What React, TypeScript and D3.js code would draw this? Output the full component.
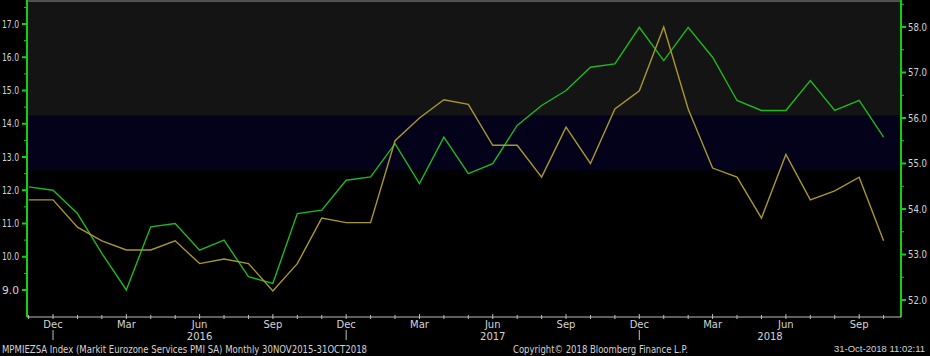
import React from "react";
import * as d3 from "d3";

// Eurozone Services PMI (right axis), Nov 2015 – Oct 2018
const pmiValues = [
  54.2, 54.2, 53.6, 53.3, 53.1, 53.1, 53.3, 52.8, 52.9, 52.8, 52.2, 52.8,
  53.8, 53.7, 53.7, 55.5, 56.0, 56.4, 56.3, 55.4, 55.4, 54.7, 55.8, 55.0,
  56.2, 56.6, 58.0, 56.2, 54.9, 54.7, 53.8, 55.2, 54.2, 54.4, 54.7, 53.3,
];
// Comparison series (left axis)
const leftValues = [
  12.1, 12.0, 11.3, 10.1, 9.0, 10.9, 11.0, 10.2, 10.5, 9.4, 9.2, 11.3,
  11.4, 12.3, 12.4, 13.4, 12.2, 13.6, 12.5, 12.8, 13.95, 14.55, 15.0, 15.7,
  15.8, 16.9, 15.9, 16.9, 16.0, 14.7, 14.4, 14.4, 15.3, 14.4, 14.7, 13.6,
];
const leftTicks = [9, 10, 11, 12, 13, 14, 15, 16, 17];
const rightTicks = [52, 53, 54, 55, 56, 57, 58];
const tickMonths = ["Dec", "Mar", "Jun", "Sep"];
const yearLabels = [
  { label: "2016", pos: 7 },
  { label: "2017", pos: 19 },
  { label: "2018", pos: 30.35 },
];
// background bands in right-axis units
const bandEdges = [56.05, 54.85];

const W = 930;
const H = 356;
const plotL = 27;
const plotR = 901;
const plotT = 1;
const plotB = 317;

const months = d3.timeMonth.range(new Date(2015, 10, 1), new Date(2018, 10, 1));
const fmtMonth = d3.timeFormat("%b");

export default function App() {
  const x = d3.scaleLinear().domain([0, 35]).range([28.6, 883.6]);
  const yL = d3.scaleLinear().domain([9, 17]).range([290, 24]);
  const yR = d3.scaleLinear().domain([52, 58]).range([300, 27]);

  const lineL = d3
    .line<number>()
    .x((_, i) => x(i))
    .y((d) => yL(d));
  const lineR = d3
    .line<number>()
    .x((_, i) => x(i))
    .y((d) => yR(d));

  const font = "'DejaVu Sans', Tahoma, sans-serif";
  const textCol = "#d4d4d4";
  const axisGreen = "#10d010";

  const leftMinor = d3.range(9, 17.51, 0.5).filter((v) => v % 1 !== 0);
  const rightMinor = d3.range(51.5, 58.51, 0.5).filter((v) => v % 1 !== 0);

  const band1 = yR(bandEdges[0]);
  const band2 = yR(bandEdges[1]);

  return (
    <svg
      width={W}
      height={H}
      style={{ position: "absolute", left: 0, top: 0, background: "#000" }}
      fontFamily={font}
    >
      <rect x={0} y={0} width={W} height={H} fill="#000" />
      {/* plot background bands */}
      <rect x={plotL} y={plotT} width={plotR - plotL} height={band1 - plotT} fill="#141414" />
      <rect x={plotL} y={band1} width={plotR - plotL} height={band2 - band1} fill="#03021a" />
      <line x1={plotL} x2={plotR} y1={plotT} y2={plotT} stroke="#9a9a9a" strokeWidth={1} />

      {/* series */}
      <path d={lineL(leftValues) || ""} fill="none" stroke="#1fb81f" strokeWidth={1.4} />
      <path d={lineR(pmiValues) || ""} fill="none" stroke="#a99630" strokeWidth={1.4} />

      {/* left axis */}
      <line x1={plotL} x2={plotL} y1={0} y2={plotB} stroke={axisGreen} strokeWidth={2} />
      {leftTicks.map((v) => (
        <g key={"l" + v}>
          <line x1={plotL - 5} x2={plotL} y1={yL(v)} y2={yL(v)} stroke={axisGreen} strokeWidth={2} />
          <text
            x={2}
            y={yL(v)}
            dy="0.35em"
            textAnchor="start"
            fontSize={10}
            fill={textCol}
            textLength={17}
            lengthAdjust="spacingAndGlyphs"
          >
            {v.toFixed(1)}
          </text>
        </g>
      ))}
      {leftMinor.map((v) => (
        <line key={"lm" + v} x1={plotL - 3} x2={plotL} y1={yL(v)} y2={yL(v)} stroke={axisGreen} strokeWidth={1} />
      ))}

      {/* right axis */}
      <line x1={plotR} x2={plotR} y1={0} y2={plotB} stroke={axisGreen} strokeWidth={2} />
      {rightTicks.map((v) => (
        <g key={"r" + v}>
          <line x1={plotR} x2={plotR + 5} y1={yR(v)} y2={yR(v)} stroke={axisGreen} strokeWidth={2} />
          <text
            x={908}
            y={yR(v)}
            dy="0.35em"
            textAnchor="start"
            fontSize={10}
            fill={textCol}
            textLength={19}
            lengthAdjust="spacingAndGlyphs"
          >
            {v.toFixed(1)}
          </text>
        </g>
      ))}
      {rightMinor
        .filter((v) => yR(v) < plotB && yR(v) > 0)
        .map((v) => (
          <line key={"rm" + v} x1={plotR} x2={plotR + 3} y1={yR(v)} y2={yR(v)} stroke={axisGreen} strokeWidth={1} />
        ))}

      {/* bottom axis */}
      <line x1={plotL} x2={plotR} y1={plotB} y2={plotB} stroke="#bdbdbd" strokeWidth={1} />
      {months.map((m, i) => {
        const name = fmtMonth(m);
        const major = tickMonths.includes(name);
        return (
          <g key={"m" + i}>
            <line
              x1={x(i)}
              x2={x(i)}
              y1={major ? plotB - 3 : plotB - 2}
              y2={plotB + 2}
              stroke="#bdbdbd"
              strokeWidth={1}
            />
            {major && (
              <text x={x(i)} y={328} textAnchor="middle" fontSize={10} fill={textCol}>
                {name}
              </text>
            )}
            {name === "Dec" && (
              <line x1={x(i)} x2={x(i)} y1={330} y2={340} stroke="#bdbdbd" strokeWidth={1} />
            )}
          </g>
        );
      })}
      {yearLabels.map((yl) => (
        <text key={yl.label} x={x(yl.pos)} y={340} textAnchor="middle" fontSize={10} fill={textCol}>
          {yl.label}
        </text>
      ))}

      {/* footer */}
      <text x={2} y={353} fontSize={10} fill={textCol} textLength={365} lengthAdjust="spacingAndGlyphs">
        MPMIEZSA Index (Markit Eurozone Services PMI SA)  Monthly 30NOV2015-31OCT2018
      </text>
      <text x={513} y={353} fontSize={10} fill={textCol} textLength={175} lengthAdjust="spacingAndGlyphs">
        Copyright© 2018 Bloomberg Finance L.P.
      </text>
      <text
        x={925}
        y={352}
        fontSize={9.5}
        fontFamily="'Liberation Sans', Arial, sans-serif"
        fill={textCol}
        textAnchor="end"
      >
        31-Oct-2018 11:02:11
      </text>
    </svg>
  );
}
